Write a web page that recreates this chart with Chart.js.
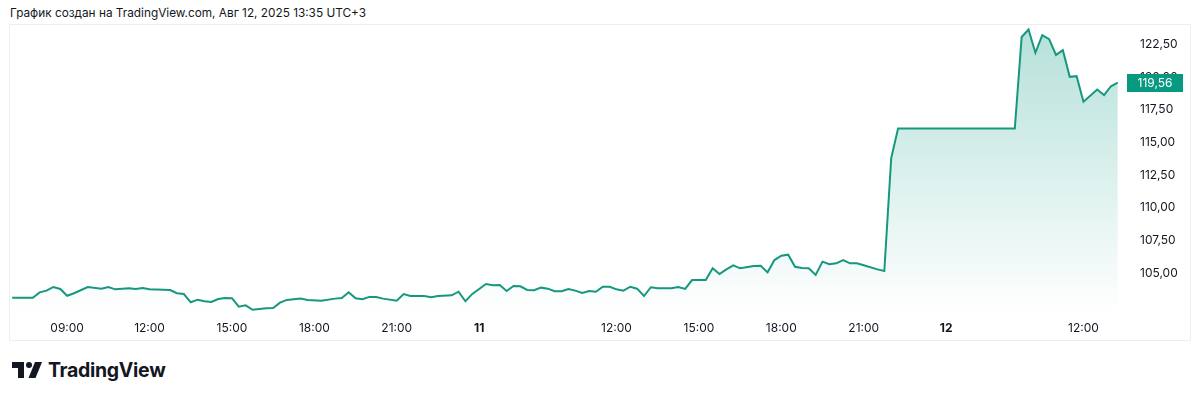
<!DOCTYPE html>
<html>
<head>
<meta charset="utf-8">
<script src="https://cdn.jsdelivr.net/npm/chart.js@4.4.1/dist/chart.umd.min.js"></script>
<style>
  body { margin: 0; background: #ffffff; font-family: "Inter", "Roboto", sans-serif; color: #131722; }
  #page { position: relative; width: 1200px; height: 400px; overflow: hidden; }
  #title { position: absolute; left: 10px; top: 6px; font-size: 11.8px; white-space: nowrap; }
  #frame { position: absolute; left: 9px; top: 24px; width: 1180px; height: 315px; border: 1px solid #eceef2; }
  #wrap { position: absolute; left: 10px; top: 18px; width: 1180px; height: 322px; }
  #logo { position: absolute; left: 12px; top: 358px; display: flex; align-items: center; }
  #logo span { font-size: 19.5px; font-weight: 700; letter-spacing: -0.3px; margin-left: 6px; color: #131722; }
</style>
</head>
<body>
<div id="page">
  <div id="title">График создан на TradingView.com, Авг 12, 2025 13:35 UTC+3</div>
  <div id="frame"></div>
  <div id="wrap"><canvas id="chart" width="1180" height="322"></canvas></div>
  <div id="logo">
    <svg width="30" height="16" viewBox="0 0 30 16">
      <path d="M0 0 H12 V16 H6 V6 H0 Z" fill="#131722"/>
      <circle cx="17" cy="3" r="3" fill="#131722"/>
      <path d="M23 0 H30 L23.5 16 H16.5 Z" fill="#131722"/>
    </svg>
    <span>TradingView</span>
  </div>
</div>
<script>
// trading hours since Aug 10, 07:00 (15-minute bars, night hours skipped)
const hours = [
  0, 0.75, 1, 1.25, 1.5, 1.75, 2, 2.25, 2.75, 3.25, 3.5, 3.75, 4.25, 4.5, 4.75, 5,
  5.75, 6, 6.25, 6.5, 6.75, 7, 7.25, 7.5, 7.75, 8, 8.25, 8.5, 8.75, 9.25, 9.5, 9.75,
  10, 10.5, 10.75, 11.25, 11.75, 12, 12.25, 12.5, 12.75, 13, 13.25, 13.5, 14, 14.25,
  14.5, 15, 15.25, 15.5, 16, 16.25, 16.5, 16.75, 17.25, 17.5, 17.75, 18, 18.25, 18.5,
  18.75, 19, 19.25, 19.5, 19.75, 20, 20.25, 20.5, 20.75, 21, 21.25, 21.5, 21.75, 22,
  22.25, 22.5, 22.75, 23, 23.25, 23.5, 24, 24.25, 24.5, 24.75, 25.25, 25.5, 25.75, 26,
  26.25, 26.5, 27, 27.25, 27.5, 27.75, 28, 28.25, 28.5, 28.75, 29, 29.25, 29.5, 29.75,
  30, 30.25, 30.5, 30.75, 31, 31.5, 31.75, 32, 32.25, 36.5, 36.75, 37, 37.25, 37.5,
  37.75, 38, 38.25, 38.5, 38.75, 39, 39.5, 39.75, 40, 40.25
];
const prices = [
  103.11, 103.11, 103.52, 103.65, 103.93, 103.78, 103.26, 103.45, 103.93, 103.80, 103.93, 103.75, 103.83, 103.78, 103.85, 103.75,
  103.70, 103.45, 103.39, 102.76, 102.96, 102.84, 102.78, 103.01, 103.09, 103.07, 102.42, 102.53, 102.19, 102.30, 102.32, 102.73,
  102.94, 103.04, 102.94, 102.88, 103.04, 103.09, 103.52, 103.07, 102.99, 103.17, 103.17, 103.04, 102.88, 103.39,
  103.24, 103.24, 103.14, 103.24, 103.29, 103.57, 102.84, 103.40, 104.16, 104.06, 104.08, 103.62, 104.01, 103.98,
  103.70, 103.68, 103.88, 103.80, 103.60, 103.60, 103.78, 103.65, 103.47, 103.62, 103.57, 103.95, 103.95, 103.75,
  103.65, 103.95, 103.80, 103.24, 103.91, 103.83, 103.83, 103.93, 103.78, 104.46, 104.46, 105.36, 104.92, 105.28,
  105.59, 105.36, 105.54, 105.56, 105.05, 105.99, 106.32, 106.40, 105.48, 105.38, 105.36, 104.85, 105.87, 105.67,
  105.74, 105.99, 105.74, 105.74, 105.59, 105.28, 105.15, 113.77, 116.06, 116.06, 123.06, 123.63, 121.85, 123.20,
  122.89, 121.69, 122.05, 120.01, 120.06, 118.10, 119.04, 118.61, 119.29, 119.56
];
const lastPrice = 119.56;

const xTickHours = [2, 5, 8, 11, 14, 17, 22, 25, 28, 31, 34, 39];
const xTickLabels = ['09:00', '12:00', '15:00', '18:00', '21:00', '11', '12:00', '15:00', '18:00', '21:00', '12', '12:00'];
const dayLabels = ['11', '12'];
const yTicks = [105, 107.5, 110, 112.5, 115, 117.5, 120, 122.5];

const lineColor = '#15987f';
const fmt = v => v.toFixed(2).replace('.', ',');

// last price badge on the price scale
const priceBadge = {
    id: 'priceBadge',
    afterDraw(chart) {
        const ctx = chart.ctx;
        const y = chart.scales.y.getPixelForValue(lastPrice);
        const left = chart.chartArea.right + 7;
        ctx.save();
        ctx.fillStyle = '#089981';
        ctx.fillRect(left, Math.round(y) - 9, 56, 18);
        ctx.fillStyle = '#ffffff';
        ctx.font = '12px Inter, Roboto, sans-serif';
        ctx.textAlign = 'center';
        ctx.textBaseline = 'middle';
        ctx.fillText(fmt(lastPrice), left + 28, Math.round(y) + 0.5);
        ctx.restore();
    }
};

const ctx = document.getElementById('chart').getContext('2d');
new Chart(ctx, {
    type: 'line',
    data: {
        datasets: [{
            data: hours.map((h, i) => ({ x: h, y: prices[i] })),
            borderColor: lineColor,
            borderWidth: 2,
            pointRadius: 0,
            tension: 0,
            fill: 'start',
            backgroundColor: (c) => {
                const area = c.chart.chartArea;
                if (!area) return 'rgba(8,153,129,0.2)';
                const g = c.chart.ctx.createLinearGradient(0, area.top, 0, area.bottom);
                g.addColorStop(0, 'rgba(8,153,129,0.30)');
                g.addColorStop(1, 'rgba(8,153,129,0.0)');
                return g;
            }
        }]
    },
    options: {
        responsive: false,
        animation: false,
        layout: { padding: 0 },
        plugins: { legend: { display: false }, tooltip: { enabled: false } },
        scales: {
            x: {
                type: 'linear',
                min: -0.08,
                max: 40.33,
                grid: { display: false, drawTicks: false },
                border: { display: false },
                afterBuildTicks: (axis) => { axis.ticks = xTickHours.map(v => ({ value: v })); },
                afterFit: (axis) => { axis.height = 27; },
                ticks: {
                    autoSkip: false,
                    maxRotation: 0,
                    padding: 8,
                    color: '#131722',
                    font: (c) => ({
                        family: 'Inter, Roboto, sans-serif',
                        size: 12,
                        weight: (c.tick && dayLabels.includes(xTickLabels[xTickHours.indexOf(c.tick.value)])) ? 'bold' : 'normal'
                    }),
                    callback: (v) => xTickLabels[xTickHours.indexOf(v)]
                }
            },
            y: {
                position: 'right',
                min: 101.94,
                max: 123.96,
                grid: { display: true, drawOnChartArea: false, drawTicks: true, tickLength: 20, color: 'rgba(0,0,0,0)' },
                border: { display: false },
                afterBuildTicks: (axis) => { axis.ticks = yTicks.map(v => ({ value: v })); },
                afterFit: (axis) => { axis.width = 70; },
                ticks: {
                    padding: 0,
                    color: '#131722',
                    font: { family: 'Inter, Roboto, sans-serif', size: 12 },
                    callback: (v) => fmt(v)
                }
            }
        }
    },
    plugins: [priceBadge]
});
</script>
</body>
</html>
